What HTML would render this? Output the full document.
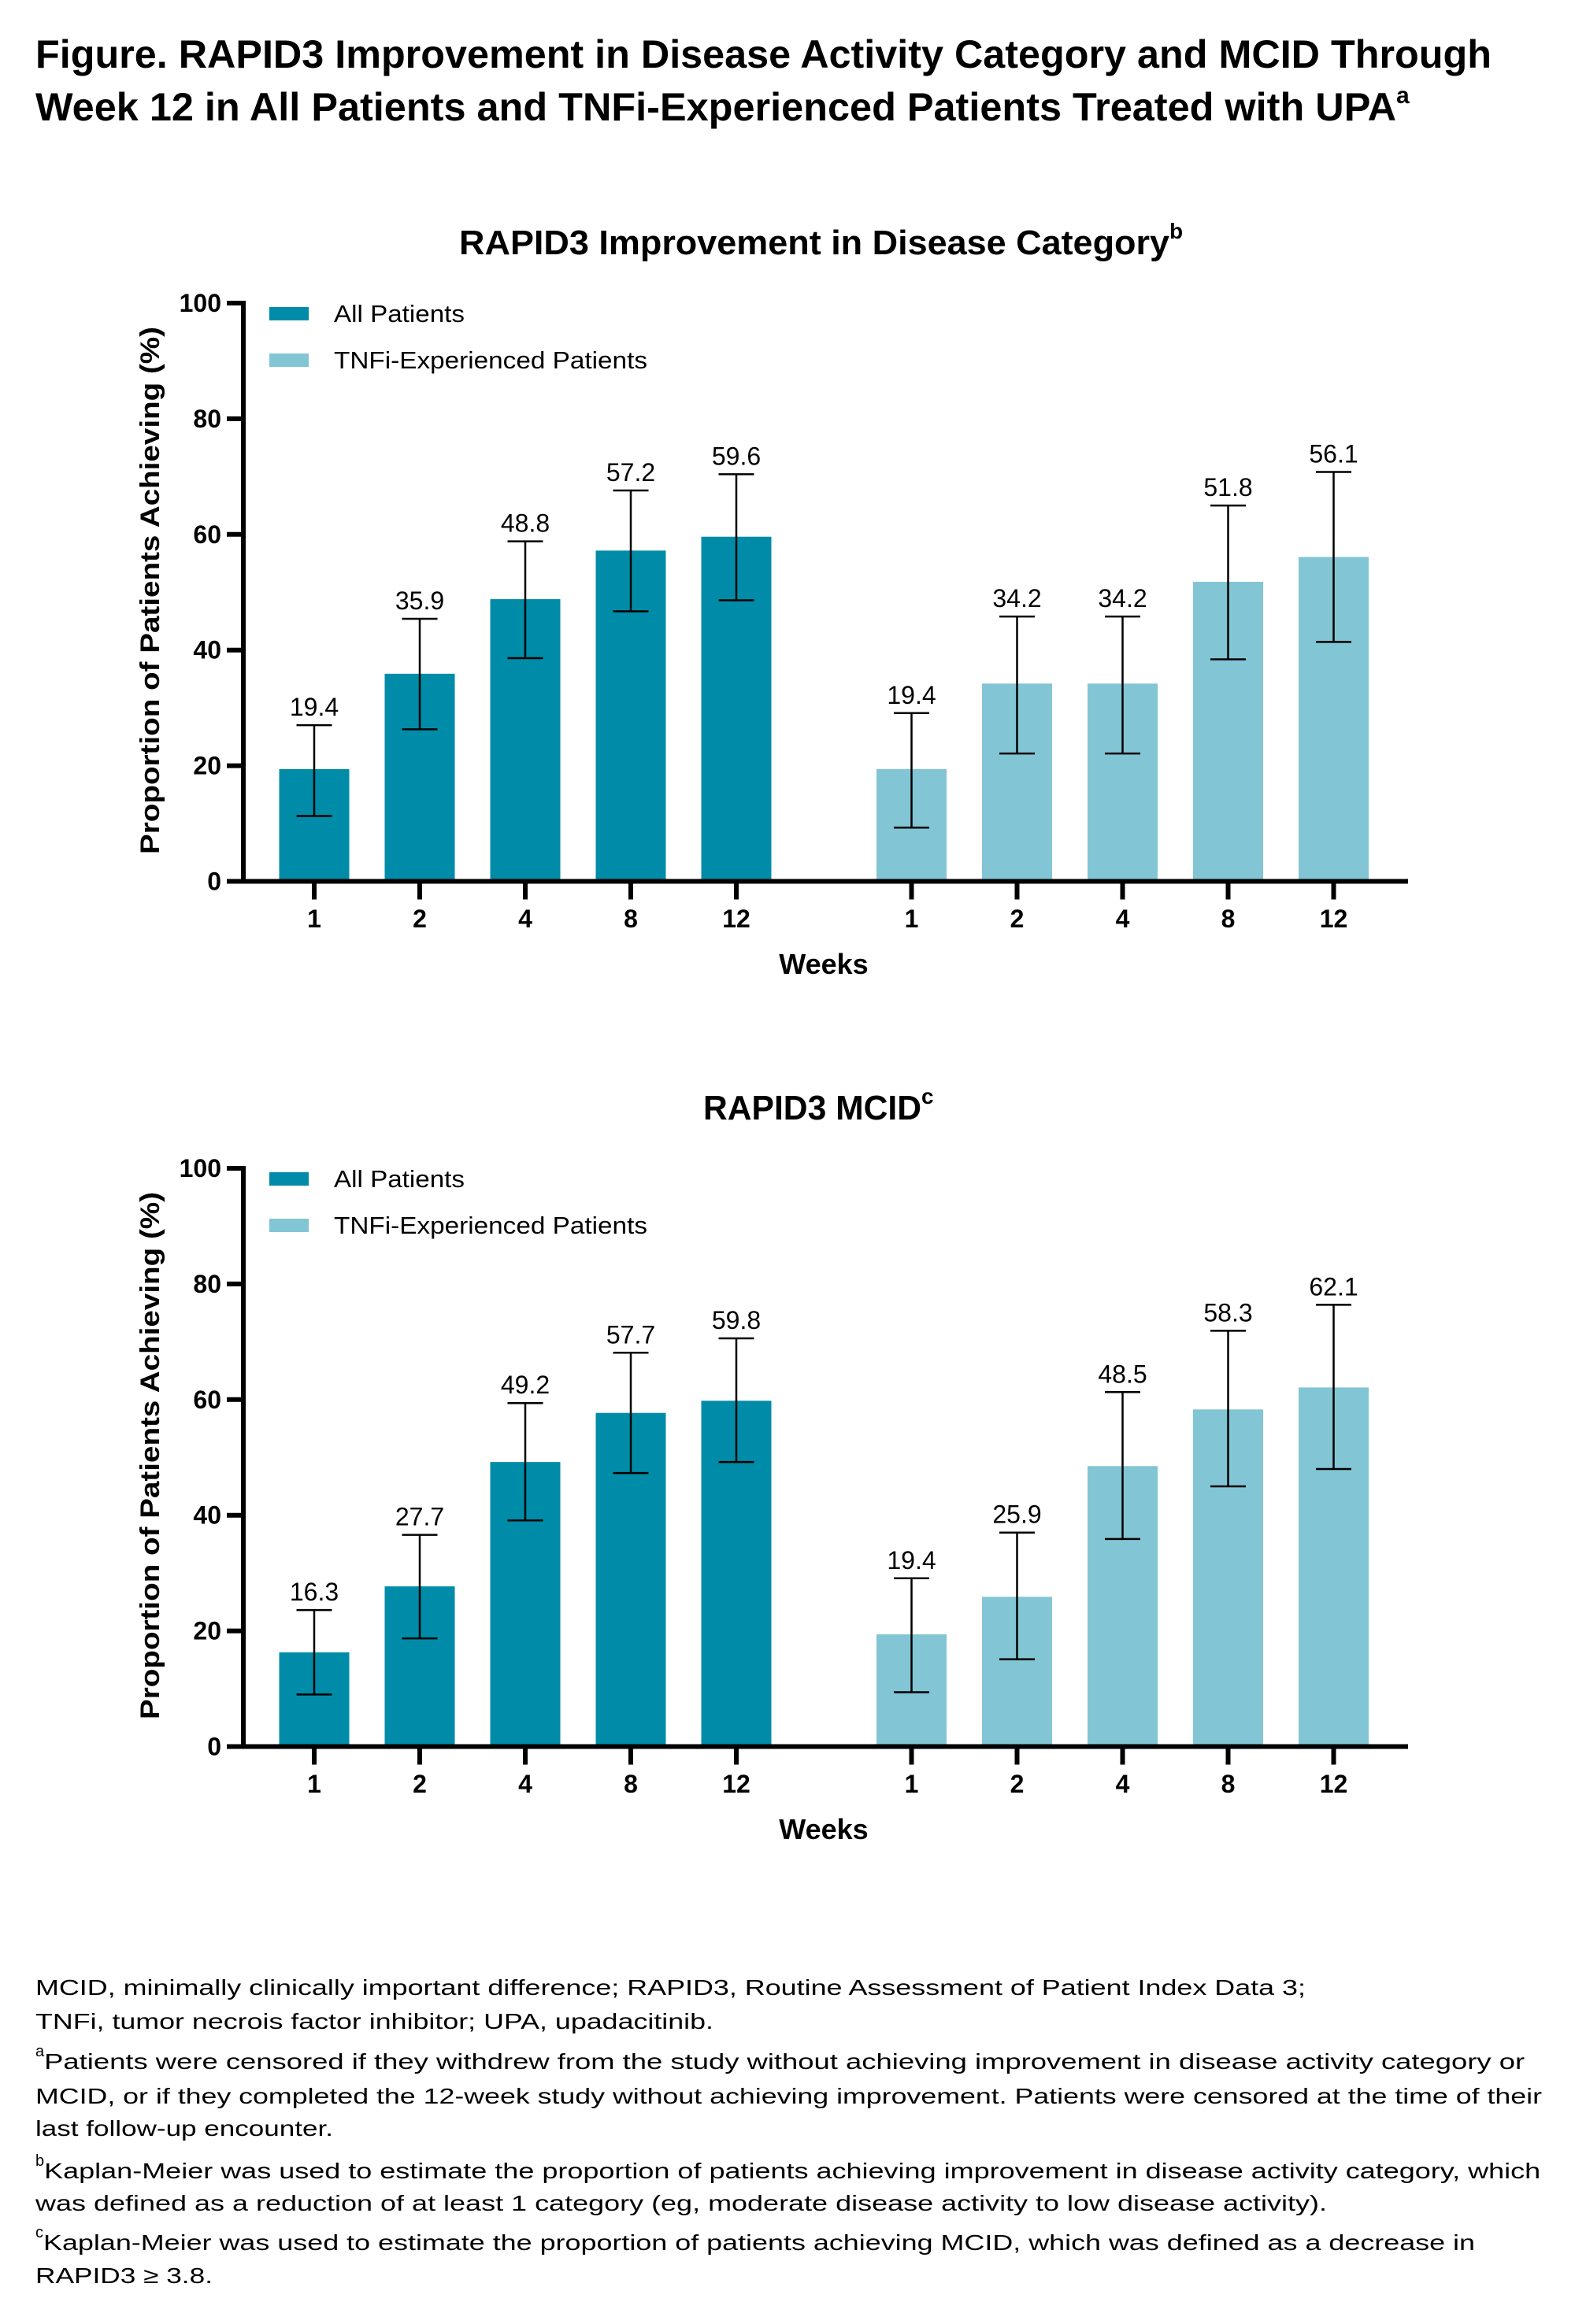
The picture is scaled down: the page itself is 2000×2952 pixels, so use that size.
<!DOCTYPE html>
<html><head><meta charset="utf-8"><style>
html,body{margin:0;padding:0;background:#fff;}
svg{display:block;font-family:"Liberation Sans",Arial,sans-serif;}
</style></head><body>
<svg id="fig" width="2000" height="2952" viewBox="0 0 2000 2952" xmlns="http://www.w3.org/2000/svg">
<g font-weight="bold" font-size="50" fill="#000">
<text x="45" y="86" textLength="1849" lengthAdjust="spacingAndGlyphs">Figure. RAPID3 Improvement in Disease Activity Category and MCID Through</text>
<text x="45" y="153"><tspan textLength="1728" lengthAdjust="spacingAndGlyphs">Week 12 in All Patients and TNFi-Experienced Patients Treated with UPA</tspan><tspan font-size="30" dy="-22">a</tspan></text>
</g>
<g id="charts"></g>
<g font-size="28" fill="#000">
<text x="45" y="2534" textLength="1613" lengthAdjust="spacingAndGlyphs">MCID, minimally clinically important difference; RAPID3, Routine Assessment of Patient Index Data 3;</text>
<text x="45" y="2577" textLength="861" lengthAdjust="spacingAndGlyphs">TNFi, tumor necrois factor inhibitor; UPA, upadacitinib.</text>
<text x="45" y="2628"><tspan font-size="20" dy="-16">a</tspan><tspan dy="16" textLength="1880" lengthAdjust="spacingAndGlyphs">Patients were censored if they withdrew from the study without achieving improvement in disease activity category or</tspan></text>
<text x="45" y="2672" textLength="1913" lengthAdjust="spacingAndGlyphs">MCID, or if they completed the 12-week study without achieving improvement. Patients were censored at the time of their</text>
<text x="45" y="2713" textLength="378" lengthAdjust="spacingAndGlyphs">last follow-up encounter.</text>
<text x="45" y="2767"><tspan font-size="20" dy="-16">b</tspan><tspan dy="16" textLength="1900" lengthAdjust="spacingAndGlyphs">Kaplan-Meier was used to estimate the proportion of patients achieving improvement in disease activity category, which</tspan></text>
<text x="45" y="2808" textLength="1640" lengthAdjust="spacingAndGlyphs">was defined as a reduction of at least 1 category (eg, moderate disease activity to low disease activity).</text>
<text x="45" y="2858"><tspan font-size="20" dy="-16">c</tspan><tspan dy="16" textLength="1818" lengthAdjust="spacingAndGlyphs">Kaplan-Meier was used to estimate the proportion of patients achieving MCID, which was defined as a decrease in</tspan></text>
<text x="45" y="2900" textLength="225" lengthAdjust="spacingAndGlyphs">RAPID3 ≥ 3.8.</text>
</g>
</svg>
<script>
const categories = ["1","2","4","8","12","1","2","4","8","12"];
const yTicks = [0,20,40,60,80,100];
const chart1Values = [19.4,35.9,48.8,57.2,59.6,19.4,34.2,34.2,51.8,56.1];
const chart1Upper = [27.0,45.4,58.8,67.6,70.4,29.1,45.8,45.8,65.0,70.8];
const chart1Lower = [11.3,26.3,38.6,46.7,48.6,9.3,22.1,22.1,38.4,41.4];
const chart2Values = [16.3,27.7,49.2,57.7,59.8,19.4,25.9,48.5,58.3,62.1];
const chart2Upper = [23.6,36.6,59.4,68.1,70.6,29.1,37.0,61.3,71.9,76.4];
const chart2Lower = [9.0,18.7,39.1,47.3,49.2,9.4,15.1,35.9,45.0,48.0];

const NS="http://www.w3.org/2000/svg";
const root=document.getElementById('charts');
const DARK="#008ca8", LIGHT="#82c5d5";
function mk(tag,attrs,parent){const e=document.createElementNS(NS,tag);for(const k in attrs)e.setAttribute(k,attrs[k]);parent.appendChild(e);return e;}

function drawChart(off,title,sup,vals,up,lo,titleX,titleLen,key){
  const g=mk('g',{},root);
  
  
  const y0=1119.5+off, y100=385+off;
  const yScale=v=>y0-(y0-y100)*v/100;
  const xScale=i=>399+134*i+(i>=5?88.5:0);
  const t=mk('text',{x:titleX,y:323+off,'font-size':44,'font-weight':'bold'},g);
  
  
  const ts=mk('tspan',{textLength:titleLen,lengthAdjust:'spacingAndGlyphs'},t);ts.textContent=title;
  const ss=mk('tspan',{'font-size':28,dy:-20},t);ss.textContent=sup;
  vals.forEach((v,i)=>{
    const r=mk('rect',{x:xScale(i)-44.5,y:yScale(v),width:89,height:y0-yScale(v),fill:i<5?DARK:LIGHT},g);
    
    
    const cx=xScale(i), yt=yScale(up[i]), yb=yScale(lo[i]);
    const eb=mk('path',{d:`M${cx} ${yt}V${yb}M${cx-22.5} ${yt}H${cx+22.5}M${cx-22.5} ${yb}H${cx+22.5}`,stroke:'#000','stroke-width':2.5,fill:'none'},g);
    
    
    const lb=mk('text',{x:cx,y:yt-12,'text-anchor':'middle','font-size':32},g);
    
    
    lb.textContent=v.toFixed(1);
    const tk=mk('line',{x1:cx,x2:cx,y1:y0,y2:y0+23,stroke:'#000','stroke-width':6},g);
    
    
    const tl=mk('text',{x:cx,y:1178+off,'text-anchor':'middle','font-size':32,'font-weight':'bold'},g);
    
    
    tl.textContent=categories[i];
  });
  const ax=mk('path',{d:`M309 ${y100-3}V${y0}H1788`,stroke:'#000','stroke-width':6,fill:'none'},g);
  
  
  yTicks.forEach(v=>{
    const yy=yScale(v);
    const l=mk('line',{x1:288,x2:309,y1:yy,y2:yy,stroke:'#000','stroke-width':6},g);
    
    
    const tx=mk('text',{x:281,y:yy+11,'text-anchor':'end','font-size':32,'font-weight':'bold'},g);
    
    
    tx.textContent=v;
  });
  const yt=mk('text',{x:0,y:0,transform:`translate(202 ${750+off}) rotate(-90)`,'text-anchor':'middle','font-size':34,'font-weight':'bold',textLength:670,lengthAdjust:'spacingAndGlyphs'},g);
  
  
  yt.textContent='Proportion of Patients Achieving (%)';
  const xt=mk('text',{x:1046,y:1237+off,'text-anchor':'middle','font-size':36,'font-weight':'bold'},g);
  
  
  xt.textContent='Weeks';
  const lg=mk('g',{},g);
  
  
  [["All Patients",DARK,390,166],["TNFi-Experienced Patients",LIGHT,449,398]].forEach(([n,c,yy,len])=>{
    const e=mk('g',{},lg);
    
    
    mk('rect',{x:342,y:yy+off,width:50,height:17,fill:c},e);
    const tt=mk('text',{x:424,y:yy+off+19,'font-size':31,textLength:len,lengthAdjust:'spacingAndGlyphs'},e);
    tt.textContent=n;
  });
}
drawChart(0,"RAPID3 Improvement in Disease Category","b",chart1Values,chart1Upper,chart1Lower,583,902,'disease-category');
drawChart(1099,"RAPID3 MCID","c",chart2Values,chart2Upper,chart2Lower,893,277,'mcid');
</script>
</body></html>
